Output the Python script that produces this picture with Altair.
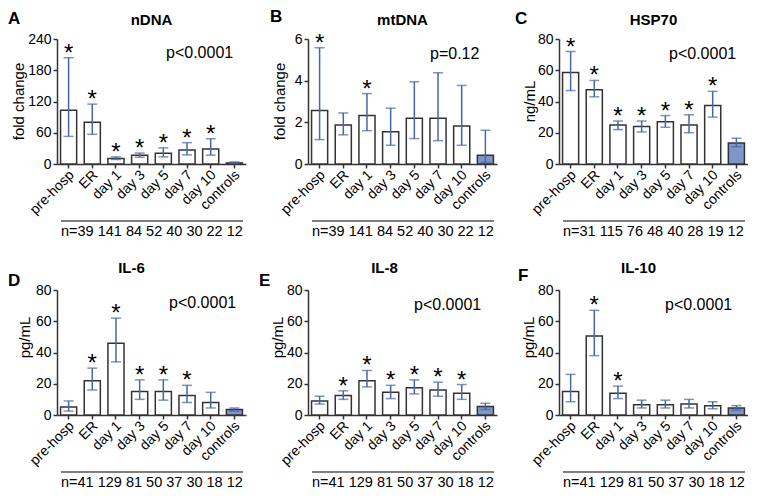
import altair as alt
import pandas as pd

categories = ["pre-hosp", "ER", "day 1", "day 3", "day 5", "day 7", "day 10", "controls"]

# Panel A: nDNA (fold change)
ndna_mean = [103, 80, 10.6, 17, 20.6, 27, 29, 2]
ndna_hi = [204, 115, 13.7, 21, 31, 41, 48.6, 4]
ndna_lo = [53, 57, 8.7, 13, 13.7, 17.5, 17, 1]
ndna_star = [1, 1, 1, 1, 1, 1, 1, 0]
ndna_n = [39, 141, 84, 52, 40, 30, 22, 12]

# Panel B: mtDNA (fold change)
mtdna_mean = [2.57, 1.87, 2.33, 1.55, 2.2, 2.2, 1.83, 0.42]
mtdna_hi = [5.58, 2.45, 3.38, 2.68, 3.95, 4.38, 3.77, 1.62]
mtdna_lo = [1.17, 1.4, 1.6, 0.9, 1.22, 1.12, 0.9, 0.08]
mtdna_star = [1, 0, 1, 0, 0, 0, 0, 0]
mtdna_n = [39, 141, 84, 52, 40, 30, 22, 12]

# Panel C: HSP70 (ng/mL)
hsp_mean = [58.5, 47.5, 25, 24, 27, 25, 37.5, 13.5]
hsp_hi = [72, 53.5, 27.5, 27.5, 31, 31.5, 46.5, 16.5]
hsp_lo = [47, 43, 22, 20.5, 23.5, 20, 30, 11]
hsp_star = [1, 1, 1, 1, 1, 1, 1, 0]
hsp_n = [31, 115, 76, 48, 40, 28, 19, 12]

# Panel D: IL-6 (pg/mL)
il6_mean = [5.2, 22, 46, 15, 15, 12.5, 8, 3.5]
il6_hi = [9, 30, 62, 22.5, 22.5, 19, 14.5, 4.5]
il6_lo = [2.5, 16, 34, 10, 9.5, 8, 4.5, 2.5]
il6_star = [0, 1, 1, 1, 1, 1, 0, 0]
il6_n = [41, 129, 81, 50, 37, 30, 18, 12]

# Panel E: IL-8 (pg/mL)
il8_mean = [9, 12.5, 22, 14.5, 17.5, 16, 14, 5.5]
il8_hi = [12, 15.5, 28.5, 19, 22.5, 21, 19.5, 7.5]
il8_lo = [7, 10, 18, 10.5, 13.5, 12, 10, 3.5]
il8_star = [0, 1, 1, 1, 1, 1, 1, 0]
il8_n = [41, 129, 81, 50, 37, 30, 18, 12]

# Panel F: IL-10 (pg/mL)
il10_mean = [15, 50.5, 14, 6.5, 6.5, 7, 6, 4.5]
il10_hi = [26, 67, 18.5, 9.5, 9.5, 10, 8.5, 6]
il10_lo = [8.5, 38, 10.5, 4.5, 4.5, 4.5, 4, 3]
il10_star = [0, 1, 1, 0, 0, 0, 0, 0]
il10_n = [41, 129, 81, 50, 37, 30, 18, 12]

letters = ["A", "B", "C", "D", "E", "F"]
titles = ["nDNA", "mtDNA", "HSP70", "IL-6", "IL-8", "IL-10"]
ylabels = ["fold change", "fold change", "ng/mL", "pg/mL", "pg/mL", "pg/mL"]
ptexts = ["p<0.0001", "p=0.12", "p<0.0001", "p<0.0001", "p<0.0001", "p<0.0001"]
ymaxes = [240, 6, 80, 80, 80, 80]
yticks = [[0, 60, 120, 180, 240], [0, 2, 4, 6], [0, 20, 40, 60, 80],
          [0, 20, 40, 60, 80], [0, 20, 40, 60, 80], [0, 20, 40, 60, 80]]

W, H = 189, 125
FONT = "Liberation Sans"
BLUE_FILL = "#7e96c9"
EB = "#4866a3"
DARK = "#333333"

# layout offsets (pixels relative to each plot area)
letter_pos = [(-49, -28), (-38, -30), (-44, -28), (-49, -17), (-49, -17), (-41, -22)]
title_pos = [(W / 2, -19), (W / 2, -19), (W / 2, -19), (W / 2 - 20, -22), (W / 2 - 18, -22), (W / 2 - 15, -22)]
ytitle_pos = [(-38, H * 0.5), (-28, H * 0.5), (-29, H * 0.5), (-32, H * 0.38), (-30, H * 0.38), (-30, H * 0.38)]
p_pos = [(109, 14), (122, 15), (110, 15), (112, 13), (106, 15), (106, 15)]

series = [
    (ndna_mean, ndna_hi, ndna_lo, ndna_star, ndna_n),
    (mtdna_mean, mtdna_hi, mtdna_lo, mtdna_star, mtdna_n),
    (hsp_mean, hsp_hi, hsp_lo, hsp_star, hsp_n),
    (il6_mean, il6_hi, il6_lo, il6_star, il6_n),
    (il8_mean, il8_hi, il8_lo, il8_star, il8_n),
    (il10_mean, il10_hi, il10_lo, il10_star, il10_n),
]


def make_panel(i):
    mean, hi, lo, star, nvals = series[i]
    df = pd.DataFrame({
        "cat": categories,
        "mean": mean,
        "hi": hi,
        "lo": lo,
        "star": ["*" if s else "" for s in star],
    })
    xscale = alt.Scale(paddingInner=0.32, paddingOuter=0.15)
    yscale = alt.Scale(domain=[0, ymaxes[i]], nice=False, zero=True)
    xaxis = alt.Axis(title=None, tickSize=4, labels=False)
    yaxis = alt.Axis(title=None, values=yticks[i], tickSize=4, labelPadding=2)

    def X(**kw):
        return alt.X("cat:N", sort=categories, scale=xscale, axis=xaxis, title=None, **kw)

    def Y(f):
        return alt.Y(f, scale=yscale, axis=yaxis, title=None)

    base = alt.Chart(df)
    bars = base.mark_bar(stroke=DARK, strokeWidth=1.5).encode(
        x=X(), y=Y("mean:Q"),
        fill=alt.condition(alt.datum.cat == "controls", alt.value(BLUE_FILL), alt.value("white")),
    )
    rule = base.mark_rule(color=EB, strokeWidth=1.5).encode(x=X(), y=Y("lo:Q"), y2="hi:Q")
    cap_hi = base.mark_tick(color=EB, size=10, thickness=1.5).encode(x=X(), y=Y("hi:Q"))
    cap_lo = base.mark_tick(color=EB, size=10, thickness=1.5).encode(x=X(), y=Y("lo:Q"))
    stars = base.mark_text(fontSize=24, font=FONT, baseline="alphabetic", dy=3, color="black").encode(
        x=X(), y=Y("hi:Q"), text="star:N")
    xlabels = base.mark_text(fontSize=14, font=FONT, angle=315, align="right", baseline="middle",
                             color="black").encode(
        x=X(bandPosition=0.7), y=alt.value(H + 9), text="cat:N")
    one = alt.Chart(pd.DataFrame({"k": [0]}))
    ntxt = "n=" + "\u00a0".join(str(v) for v in nvals)
    ntext = one.mark_text(text=ntxt, fontSize=14.5, font=FONT, align="left",
                          baseline="middle", color="black").encode(
        x=alt.value(4), y=alt.value(H + 68))
    nline = one.mark_rule(color="#555555", strokeWidth=1.5).encode(
        x=alt.value(4), x2=alt.value(W - 3), y=alt.value(H + 57))
    lx, ly = letter_pos[i]
    letter = one.mark_text(text=letters[i], font=FONT, fontSize=17, fontWeight="bold",
                           align="left", baseline="top", color="black").encode(
        x=alt.value(lx), y=alt.value(ly))
    tx, ty = title_pos[i]
    title = one.mark_text(text=titles[i], font=FONT, fontSize=15, fontWeight="bold",
                          align="center", baseline="middle", color="black").encode(
        x=alt.value(tx), y=alt.value(ty))
    yx, yy = ytitle_pos[i]
    ytitle = one.mark_text(text=ylabels[i], font=FONT, fontSize=15, angle=270,
                           align="center", baseline="middle", color="black").encode(
        x=alt.value(yx), y=alt.value(yy))
    px, py = p_pos[i]
    ptxt = one.mark_text(text=ptexts[i], font=FONT, fontSize=16,
                         align="left", baseline="middle", color="black").encode(
        x=alt.value(px), y=alt.value(py))
    return alt.layer(bars, rule, cap_hi, cap_lo, stars, xlabels, ntext, nline, letter, title, ytitle,
                     ptxt).properties(width=W, height=H)


panels = [make_panel(i) for i in range(6)]

chart = alt.concat(*panels, columns=3, spacing={"row": 126, "column": 62}, bounds="flush").properties(
    padding=0
).configure_view(strokeWidth=0).configure_axis(
    labelFont=FONT, labelFontSize=14, labelColor="black",
    domainColor=DARK, domainWidth=1.5, tickColor=DARK, tickWidth=1.5, grid=False,
)

chart.save("out.html", embed_options={"renderer": "svg", "actions": False})
